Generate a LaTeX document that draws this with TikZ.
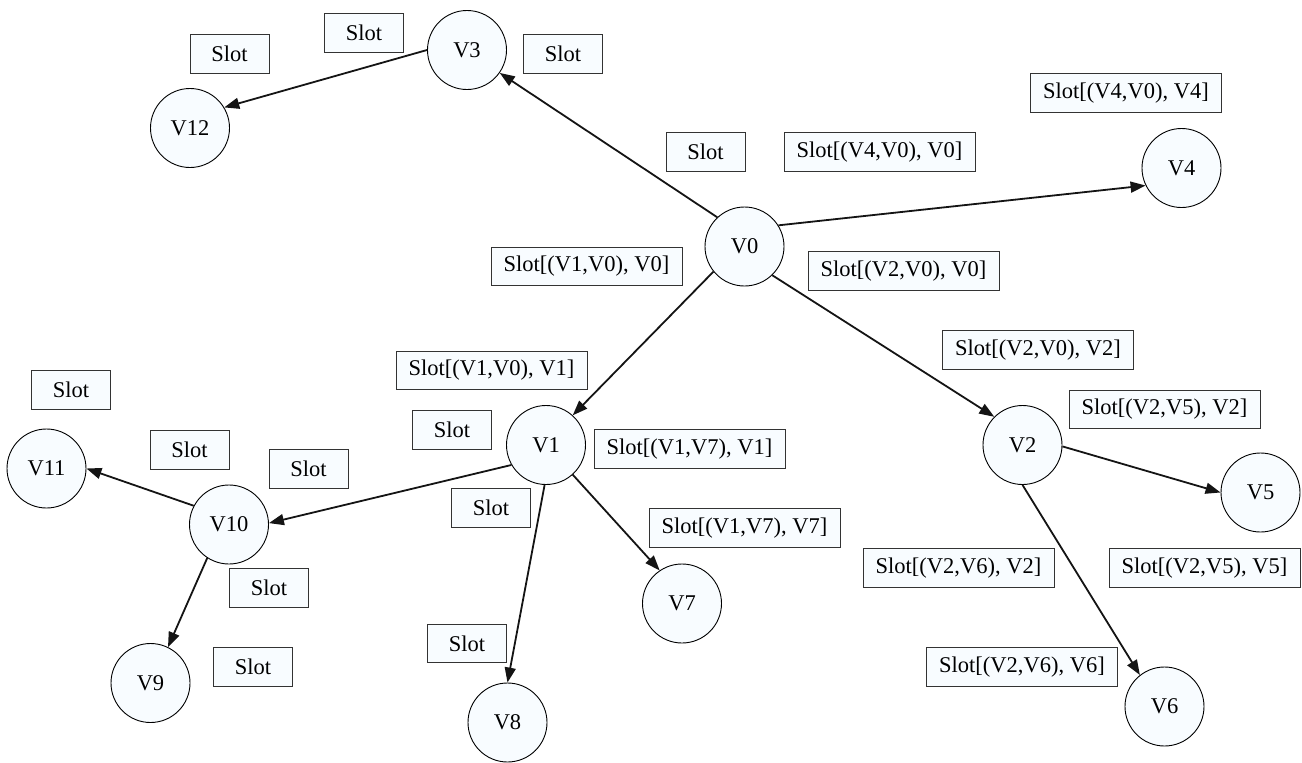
\documentclass[tikz,border=0pt]{standalone}
\usepackage{fontspec}
\setmainfont{Liberation Serif}
\usetikzlibrary{arrows.meta}
\definecolor{nodefill}{RGB}{248,252,255}
\definecolor{edgecol}{RGB}{20,20,20}
\tikzset{
  vert/.style={circle, draw=black, line width=0.9pt, fill=nodefill, minimum size=79pt, inner sep=0pt, font=\fontsize{22.5}{26}\selectfont},
  slotbox/.style={rectangle, draw=black!80, line width=0.9pt, fill=nodefill, minimum width=79pt, minimum height=38.5pt, inner sep=0pt, font=\fontsize{22.5}{26}\selectfont},
  wideslot/.style={slotbox, minimum width=191pt},
  edge/.style={draw=edgecol, line width=1.8pt, -{Triangle[length=15pt,width=11pt]}}
}
\begin{document}
\begin{tikzpicture}[x=1pt,y=-1pt]
\useasboundingbox (0,0) rectangle (1302,763);
% vertices
\node[vert] (V3) at (467,50) {V3};
\node[vert] (V12) at (190,128) {V12};
\node[vert] (V4) at (1181.5,168) {V4};
\node[vert] (V0) at (744.5,246.5) {V0};
\node[vert] (V1) at (546,445) {V1};
\node[vert] (V2) at (1022.5,445) {V2};
\node[vert] (V5) at (1260.5,492.5) {V5};
\node[vert] (V11) at (46.5,468.5) {V11};
\node[vert] (V10) at (229,524.5) {V10};
\node[vert] (V7) at (682,603.5) {V7};
\node[vert] (V8) at (507.5,722.5) {V8};
\node[vert] (V9) at (150.5,683) {V9};
\node[vert] (V6) at (1164.5,706.5) {V6};
% slot boxes
\node[slotbox] (s1) at (229.5,54) {Slot};
\node[slotbox] (s2) at (364,33) {Slot};
\node[slotbox] (s3) at (563,54) {Slot};
\node[wideslot] (s4) at (1126,93) {Slot[(V4,V0), V4]};
\node[slotbox] (s5) at (705.5,152) {Slot};
\node[wideslot] (s6) at (879.5,152) {Slot[(V4,V0), V0]};
\node[wideslot] (s7) at (586.5,266.5) {Slot[(V1,V0), V0]};
\node[wideslot] (s8) at (903.5,271) {Slot[(V2,V0), V0]};
\node[wideslot] (s9) at (491.5,370.5) {Slot[(V1,V0), V1]};
\node[wideslot] (s10) at (1038,350) {Slot[(V2,V0), V2]};
\node[slotbox] (s11) at (71,390) {Slot};
\node[wideslot] (s12) at (1164.5,409.5) {Slot[(V2,V5), V2]};
\node[slotbox] (s13) at (452,430) {Slot};
\node[wideslot] (s14) at (689.5,449) {Slot[(V1,V7), V1]};
\node[slotbox] (s15) at (189.5,450) {Slot};
\node[slotbox] (s16) at (308.5,469) {Slot};
\node[slotbox] (s17) at (491,508) {Slot};
\node[wideslot] (s18) at (744.5,528) {Slot[(V1,V7), V7]};
\node[slotbox] (s19) at (269,588) {Slot};
\node[wideslot] (s20) at (958.5,568) {Slot[(V2,V6), V2]};
\node[wideslot] (s21) at (1204.5,568) {Slot[(V2,V5), V5]};
\node[slotbox] (s22) at (467,643.5) {Slot};
\node[slotbox] (s23) at (253,667) {Slot};
\node[wideslot] (s24) at (1022,667) {Slot[(V2,V6), V6]};
% edges
\draw[edge] (V0.133) -- (V3.325);
\draw[edge] (V0.32) -- (V4.206);
\draw[edge] (V0.219) -- (V1.48);
\draw[edge] (V0.314) -- (V2.135);
\draw[edge] (V3.180) -- (V12.31);
\draw[edge] (V1.210) -- (V10.2);
\draw[edge] (V1.312) -- (V7.124);
\draw[edge] (V1.268) -- (V8.90);
\draw[edge] (V10.152) -- (V11.0);
\draw[edge] (V10.237) -- (V9.64);
\draw[edge] (V2.-2) -- (V5.180);
\draw[edge] (V2.270) -- (V6.128);
\end{tikzpicture}
\end{document}
